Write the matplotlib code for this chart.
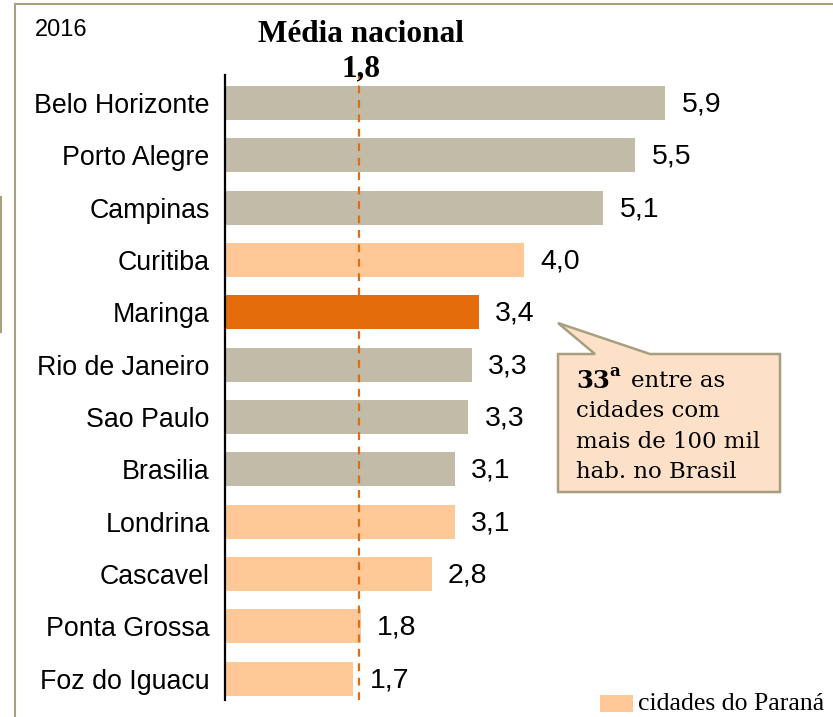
import matplotlib.pyplot as plt
from matplotlib.patches import Polygon, Rectangle

cidades = ["Belo Horizonte", "Porto Alegre", "Campinas", "Curitiba", "Maringa",
           "Rio de Janeiro", "Sao Paulo", "Brasilia", "Londrina", "Cascavel",
           "Ponta Grossa", "Foz do Iguacu"]
# bar lengths (labels are the rounded figures)
valores = [5.9, 5.5, 5.07, 4.01, 3.4, 3.31, 3.26, 3.08, 3.08, 2.77, 1.82, 1.72]
rotulos = ["5,9", "5,5", "5,1", "4,0", "3,4", "3,3", "3,3", "3,1", "3,1", "2,8", "1,8", "1,7"]
tipo = ["outra", "outra", "outra", "pr", "destaque", "outra", "outra", "outra",
        "pr", "pr", "pr", "pr"]
media_nacional = 1.8

cores = {"outra": "#c2bba8", "pr": "#ffc896", "destaque": "#e46c0a"}

W, H = 833, 717
fig = plt.figure(figsize=(W / 100, H / 100), dpi=100)

# main axes: x from 225 px to right edge, y from 75 px to 700 px
ax = fig.add_axes([225 / W, 1 - 700 / H, (W - 225) / W, (700 - 75) / H])
pos = list(range(len(cidades)))
ax.barh(pos, valores, height=0.65, color=[cores[t] for t in tipo], zorder=2)
ax.set_xlim(0, (W - 225) / 74.6)
ax.set_ylim(11.41, -0.535)
ax.axvline(media_nacional, color="#e46c0a", ls=(0, (3.5, 3)), lw=1.6, zorder=3)
for p, v, r in zip(pos, valores, rotulos):
    ax.text(v + 0.22, p + 0.03, r, ha="left", va="center", fontsize=20.5,
            family="Liberation Sans")
ax.set_yticks(pos)
ax.set_yticklabels(cidades, fontsize=19.3, family="Liberation Sans")
ax.tick_params(axis="y", length=0, pad=11)
ax.set_xticks([])
for s in ["top", "right", "bottom"]:
    ax.spines[s].set_visible(False)
ax.spines["left"].set_linewidth(1.6)
ax.patch.set_alpha(0)

# overlay in pixel coordinates for frame, titles, callout and legend
ov = fig.add_axes([0, 0, 1, 1], zorder=5)
ov.set_xlim(0, W)
ov.set_ylim(H, 0)
ov.axis("off")
ov.patch.set_alpha(0)

frame_c = "#a89f80"
ov.plot([15, W], [4, 4], color=frame_c, lw=1.5)
ov.plot([15, 15], [4, H], color=frame_c, lw=1.5)
ov.plot([1, 1], [197, 332], color=frame_c, lw=1.5)

ov.text(35, 30, "2016", fontsize=17, family="Liberation Sans", va="center")
ov.text(361, 34, "Média nacional", fontsize=22.5, weight="bold",
        family="Liberation Serif", ha="center", va="center")
ov.text(361, 69, "1,8", fontsize=22.5, weight="bold",
        family="Liberation Serif", ha="center", va="center")

balao = Polygon([(558, 354), (595, 354), (558, 323), (650, 354), (780, 354),
                 (780, 492), (558, 492)], closed=True,
                facecolor="#fde0c8", edgecolor=frame_c, lw=1.8)
ov.add_patch(balao)
serif = ["DejaVu Serif"]
ov.text(576, 381, "33", fontsize=17.5, weight="bold", family=serif, va="center")
ov.text(609, 372, "a", fontsize=12, weight="bold", family=serif, va="center")
ov.text(631, 381, "entre as", fontsize=16.5, family=serif, va="center")
ov.text(576, 411, "cidades com", fontsize=16.5, family=serif, va="center")
ov.text(576, 442, "mais de 100 mil", fontsize=16.5, family=serif, va="center")
ov.text(576, 472, "hab. no Brasil", fontsize=16.5, family=serif, va="center")

ov.add_patch(Rectangle((600, 695), 33, 17, facecolor=cores["pr"], edgecolor="none"))
ov.text(638, 704, "cidades do Paraná", fontsize=18.5, family="Liberation Serif",
        va="center")

fig.savefig("out.png", dpi=100)
